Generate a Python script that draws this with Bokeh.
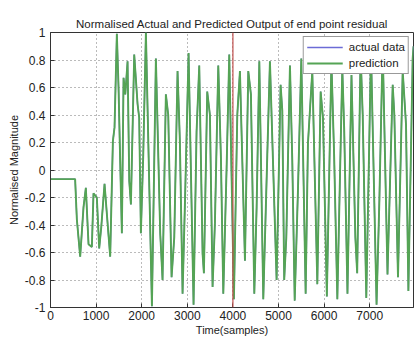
from bokeh.plotting import figure
from bokeh.models import Span, Legend, LegendItem, FixedTicker, Range1d, ColumnDataSource
from bokeh.embed import file_html
from bokeh.resources import INLINE

title_text = "Normalised Actual and Predicted Output of end point residual"
x_label = "Time(samples)"
y_label = "Normalised Magnitude"

time = [0, 540, 578, 651, 724, 775, 834, 907, 943, 1016, 1068, 1112, 1185, 1236,
        1309, 1368, 1404, 1455, 1492, 1529, 1565, 1602, 1640, 1690, 1727, 1763,
        1836, 1909, 1945, 1982, 2034, 2092, 2224, 2311, 2406, 2457, 2530, 2582,
        2655, 2714, 2786, 2837, 2896, 2955, 3028, 3137, 3203, 3262, 3335, 3364,
        3437, 3496, 3554, 3605, 3679, 3737, 3789, 3862, 3920, 4022, 4096, 4154,
        4264, 4337, 4395, 4469, 4520, 4579, 4666, 4754, 4812, 4958, 5046, 5083,
        5125, 5171, 5251, 5302, 5355, 5426, 5500, 5595, 5645, 5741, 5851, 5924,
        5975, 6060, 6160, 6220, 6290, 6399, 6440, 6512, 6600, 6685, 6725, 6800,
        6846, 6925, 7028, 7150, 7211, 7284, 7390, 7504, 7540, 7620, 7723, 7796,
        7848, 7942, 7960]

prediction = [-0.066, -0.066, -0.36, -0.63, -0.27, -0.13, -0.54, -0.56, -0.17, -0.20,
              -0.57, -0.42, -0.10, -0.32, -0.63, 0.21, 0.31, 0.99, 0.60, 0.05,
              -0.46, 0.67, 0.55, 0.79, -0.08, -0.25, 0.84, 0.48, 0.38, -0.46,
              0.11, 1.0, -0.99, 0.81, -0.46, -0.80, 0.55, 0.40, -0.78, -0.49,
              0.72, 0.21, -0.90, -0.15, 0.85, -0.98, 0.28, 0.76, -0.61, -0.75,
              0.57, 0.40, -0.85, -0.39, 0.76, 0.09, -0.90, 0.02, 0.84, -0.94,
              0.40, 0.72, -0.66, 0.72, 0.55, -0.90, -0.27, 0.79, -0.94, 0.11,
              0.79, -0.80, 0.62, 0.43, -0.80, -0.49, 0.76, 0.07, -0.95, -0.15,
              0.81, -0.90, 0.19, 0.72, -0.83, 0.57, 0.38, -0.92, 0.79, 0.10,
              -0.94, 0.74, 0.30, -0.90, 0.69, -0.49, -0.75, 0.85, 0.40, -0.93,
              0.87, -0.98, -0.23, 0.90, -0.76, 0.62, 0.40, -0.78, 0.72, 0.33,
              -0.88, 0.81, 0.90]

actual = list(prediction)

split_time = 4000

x_ticks = [0, 1000, 2000, 3000, 4000, 5000, 6000, 7000]
y_ticks = [-1, -0.8, -0.6, -0.4, -0.2, 0, 0.2, 0.4, 0.6, 0.8, 1]
y_tick_labels = ["-1", "-0.8", "-0.6", "-0.4", "-0.2", "0", "0.2", "0.4", "0.6", "0.8", "1"]

FONT = "Liberation Sans"
TXT = "#222222"

p = figure(width=414, height=338, x_range=Range1d(0, 7960), y_range=Range1d(-1, 1),
           output_backend="svg", toolbar_location=None,
           min_border_left=50, min_border_right=1, min_border_top=32, min_border_bottom=29,
           title=title_text)
p.background_fill_color = "white"
p.border_fill_color = "white"
p.outline_line_color = "#333333"
p.outline_line_width = 1

p.title.text_font = FONT
p.title.text_font_size = "11.5px"
p.title.text_font_style = "normal"
p.title.text_color = TXT
p.title.align = "center"
p.title.offset = 0
p.title.standoff = 5

src = ColumnDataSource(dict(t=time, pred=prediction, act=actual))
r_act = p.line("t", "act", source=src, line_color="#6b6bd6", line_width=1.4)
r_pred = p.line("t", "pred", source=src, line_color="#55a455", line_alpha=1.0, line_width=1.9)

p.add_layout(Span(location=split_time, dimension="height", line_color="#c0504d", line_width=1.2))

for ax in (p.xaxis[0], p.yaxis[0]):
    ax.axis_line_color = "#333333"
    ax.major_tick_line_color = "#333333"
    ax.major_tick_in = 4
    ax.major_tick_out = 0
    ax.minor_tick_line_color = None
    ax.major_label_text_font = FONT
    ax.major_label_text_font_size = "12px"
    ax.major_label_text_color = TXT
    ax.axis_label_text_font = FONT
    ax.axis_label_text_font_size = "11px"
    ax.axis_label_text_font_style = "normal"
    ax.axis_label_text_color = TXT

p.xaxis.ticker = FixedTicker(ticks=x_ticks)
p.xaxis.axis_label = x_label
p.xaxis.major_label_standoff = 3
p.xaxis.axis_label_standoff = 1

p.yaxis.ticker = FixedTicker(ticks=y_ticks)
p.yaxis.major_label_overrides = {v: s for v, s in zip(y_ticks, y_tick_labels)}
p.yaxis.axis_label = y_label
p.yaxis.major_label_standoff = 5
p.yaxis.axis_label_standoff = 2

p.xgrid.ticker = FixedTicker(ticks=x_ticks)
p.ygrid.ticker = FixedTicker(ticks=y_ticks)
for g in (p.xgrid[0], p.ygrid[0]):
    g.grid_line_color = "#777777"
    g.grid_line_dash = "1 3"
    g.grid_line_width = 1

legend = Legend(items=[LegendItem(label="actual data", renderers=[r_act]),
                       LegendItem(label="prediction", renderers=[r_pred])],
                location="top_right")
legend.border_line_color = "#333333"
legend.background_fill_color = "white"
legend.background_fill_alpha = 1
legend.label_text_font = FONT
legend.label_text_font_size = "11.5px"
legend.label_text_color = TXT
legend.glyph_width = 36
legend.glyph_height = 14
legend.label_height = 14
legend.spacing = 2
legend.padding = 3
legend.margin = 4
legend.label_standoff = 6
p.add_layout(legend)

open("out.html", "w").write(file_html(p, INLINE))
